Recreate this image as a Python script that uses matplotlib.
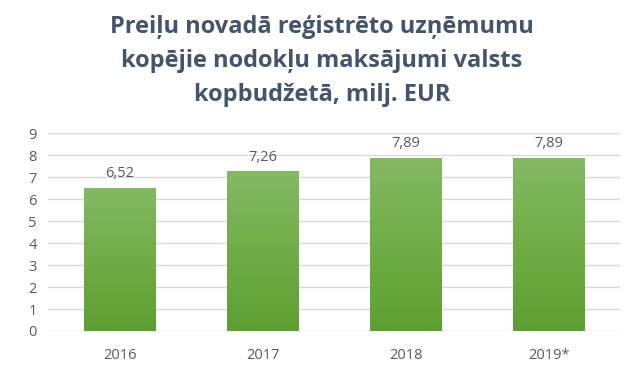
import matplotlib

matplotlib.use("Agg")
import matplotlib.pyplot as plt
import numpy as np
from matplotlib.colors import LinearSegmentedColormap

YEARS = ["2016", "2017", "2018", "2019*"]
VALUES = [6.52, 7.26, 7.89, 7.89]
LABELS = ["6,52", "7,26", "7,89", "7,89"]
TITLE = ("Preiļu novadā reģistrēto uzņēmumu\n"
         "kopējie nodokļu maksājumi valsts\n"
         "kopbudžetā, milj. EUR")

TEXT = "#595959"
GREEN = LinearSegmentedColormap.from_list("g", ["#5e9f32", "#70ad47", "#85b964"])

plt.rcParams["font.family"] = ["Open Sans", "DejaVu Sans"]

fig = plt.figure(figsize=(6.44, 3.74), dpi=100)
ax = fig.add_axes([0.0745, 0.115, 0.8885, 0.529])

x = np.arange(len(YEARS))
bars = ax.bar(x, VALUES, width=0.5, color="none", zorder=2)

# vertical gradient inside each bar
grad = np.linspace(0, 1, 256).reshape(-1, 1)
for b in bars:
    x0, y0 = b.get_x(), b.get_y()
    im = ax.imshow(grad, cmap=GREEN, origin="lower", aspect="auto",
                   extent=[x0, x0 + b.get_width(), y0, y0 + b.get_height()],
                   zorder=2)
    im.set_clip_path(b)

for xi, v, lab in zip(x, VALUES, LABELS):
    ax.text(xi, v + 0.3, lab, ha="center", va="bottom", fontsize=10.5, color=TEXT)

ax.set_xlim(-0.5, len(YEARS) - 0.5)
ax.set_ylim(0, 9)
ax.set_yticks(range(10))
ax.set_xticks(x)
ax.set_xticklabels(YEARS)
ax.tick_params(length=0, labelsize=10.5, labelcolor=TEXT)
ax.tick_params(axis="x", pad=12)
ax.tick_params(axis="y", pad=8)
ax.grid(axis="y", color="#d9d9d9", linewidth=1, zorder=0)
ax.set_axisbelow(True)
for s in ax.spines.values():
    s.set_visible(False)

fig.text(0.5, 0.836, TITLE, ha="center", va="center", fontsize=17,
         fontweight="bold", color="#44546a", linespacing=1.55)

fig.savefig("out.png", dpi=100)
